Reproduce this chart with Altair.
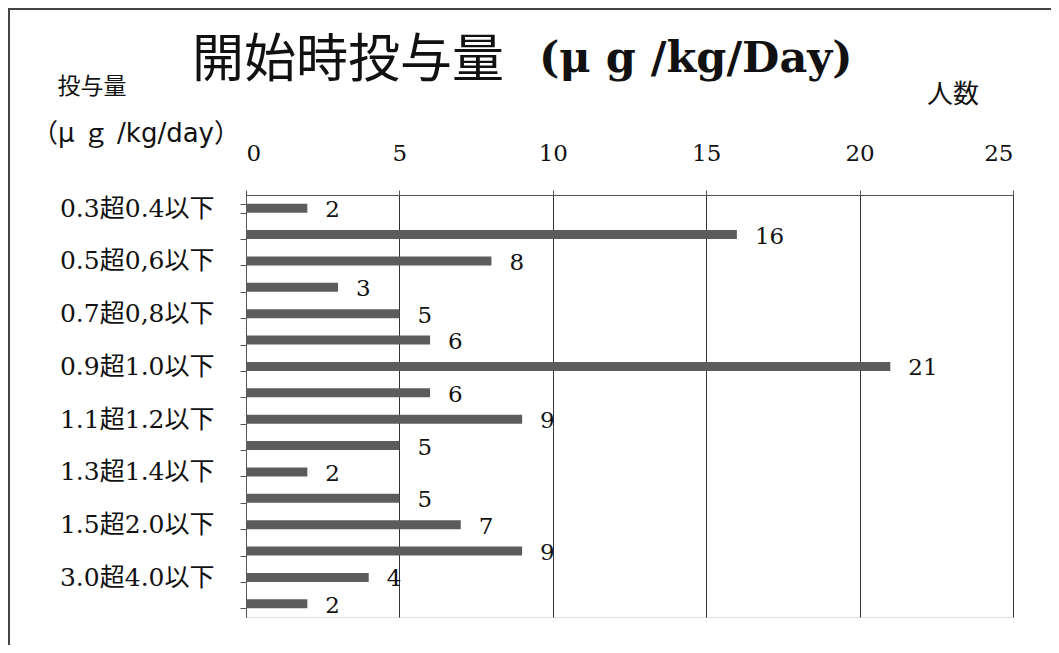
import altair as alt
import pandas as pd

categories = ["0.3超0.4以下", "0.4超0.5以下", "0.5超0,6以下", "0.6超0.7以下",
              "0.7超0,8以下", "0.8超0.9以下", "0.9超1.0以下", "1.0超1.1以下",
              "1.1超1.2以下", "1.2超1.3以下", "1.3超1.4以下", "1.4超1.5以下",
              "1.5超2.0以下", "2.0超3.0以下", "3.0超4.0以下", "4.0超"]
counts = [2, 16, 8, 3, 5, 6, 21, 6, 9, 5, 2, 5, 7, 9, 4, 2]
shown_labels = categories[0::2]
x_ticks = [0, 5, 10, 15, 20, 25]

title_main = "開始時投与量"
title_unit = "(μ g /kg/Day)"
y_title_1 = "投与量"
y_title_2 = "（μ ｇ /kg/day）"
x_title = "人数"

SERIF = "DejaVu Serif, Noto Sans CJK JP"
SANS = "DejaVu Sans, Noto Sans CJK JP"
CJK = "Noto Sans CJK JP"

df = pd.DataFrame({"cat": categories, "n": counts})

label_expr = "indexof([" + ",".join("'" + s + "'" for s in shown_labels) + "], datum.value) >= 0 ? datum.value : ''"

x_enc = alt.X("n:Q", scale=alt.Scale(domain=[0, 25], nice=False),
              axis=alt.Axis(orient="top", values=x_ticks, title=None, grid=True,
                            gridColor="#333333", gridWidth=1, gridOpacity=1,
                            domainColor="#555555", tickColor="#555555", tickSize=5,
                            labelPadding=25, labelFont=SERIF, labelFontSize=23,
                            labelColor="#111111"))
y_enc = alt.Y("cat:N", sort=categories,
              scale=alt.Scale(paddingInner=0.66, paddingOuter=0.33),
              axis=alt.Axis(title=None, labelExpr=label_expr, tickBand="extent",
                            tickSize=6, tickColor="#555555", domainColor="#555555",
                            labelPadding=26, labelFont=SERIF, labelFontSize=25,
                            labelColor="#111111", labelLimit=300))

bars = alt.Chart(df).mark_bar(color="#5c5c5c").encode(x=x_enc, y=y_enc)
values = alt.Chart(df).mark_text(align="left", baseline="middle", dx=18, dy=2,
                                 font=SERIF, fontSize=23, color="#111111").encode(
    x="n:Q", y=alt.Y("cat:N", sort=categories), text="n:Q")

one = pd.DataFrame({"k": [0]})
title1 = alt.Chart(one).mark_text(font=CJK, fontSize=52, fontWeight="normal",
                                  baseline="middle", align="center", color="#111111").encode(
    x=alt.value(102), y=alt.value(-134), text=alt.value(title_main))
title2 = alt.Chart(one).mark_text(font="DejaVu Serif", fontSize=43, fontWeight="bold",
                                  baseline="middle", align="left", color="#111111").encode(
    x=alt.value(293), y=alt.value(-136), text=alt.value(title_unit))
yt1 = alt.Chart(one).mark_text(font=CJK, fontSize=23, baseline="middle",
                               align="center", color="#111111").encode(
    x=alt.value(-154), y=alt.value(-108), text=alt.value(y_title_1))
yt2 = alt.Chart(one).mark_text(font=SANS, fontSize=26, baseline="middle",
                               align="left", color="#111111").encode(
    x=alt.value(-214), y=alt.value(-61), text=alt.value(y_title_2))
xt = alt.Chart(one).mark_text(font=CJK, fontSize=26, baseline="middle",
                              align="center", color="#111111").encode(
    x=alt.value(707), y=alt.value(-100), text=alt.value(x_title))
border = alt.Chart(one).mark_rect(fill=None, stroke="#444444", strokeWidth=2, clip=False).encode(
    x=alt.value(-237), x2=alt.value(807), y=alt.value(-186), y2=alt.value(480))

chart = alt.layer(border, bars, values, title1, title2, yt1, yt2, xt).properties(
    width=767, height=422,
    autosize=alt.AutoSizeParams(type="none"),
    padding={"left": 238, "top": 187, "right": 38, "bottom": 28},
).configure_view(stroke=None).configure(background="white")

chart.save("out.html", embed_options={"renderer": "svg", "actions": False})
